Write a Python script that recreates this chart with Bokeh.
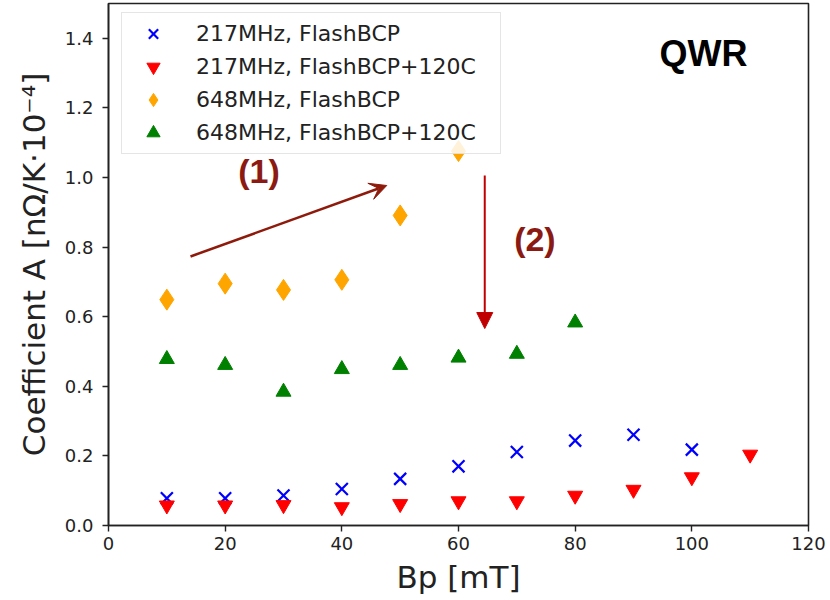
from bokeh.plotting import figure
from bokeh.models import (Arrow, VeeHead, NormalHead, Label, FixedTicker,
                          NumeralTickFormatter, Range1d, Legend)
from bokeh.embed import file_html
from bokeh.resources import INLINE

# Peak field Bp [mT] for each series
bp_217_bcp = [10, 20, 30, 40, 50, 60, 70, 80, 90, 100]
a_217_bcp = [0.078, 0.078, 0.086, 0.105, 0.134, 0.170, 0.211, 0.244, 0.261, 0.218]

bp_217_bake = [10, 20, 30, 40, 50, 60, 70, 80, 90, 100, 110]
a_217_bake = [0.058, 0.058, 0.059, 0.053, 0.062, 0.070, 0.070, 0.086, 0.103, 0.139, 0.204]

bp_648_bcp = [10, 20, 30, 40, 50, 60]
a_648_bcp = [0.649, 0.695, 0.677, 0.706, 0.891, 1.076]

bp_648_bake = [10, 20, 30, 40, 50, 60, 70, 80]
a_648_bake = [0.478, 0.461, 0.384, 0.449, 0.461, 0.482, 0.493, 0.583]

x_ticks = [0, 20, 40, 60, 80, 100, 120]
y_ticks = [0.0, 0.2, 0.4, 0.6, 0.8, 1.0, 1.2, 1.4]

p = figure(width=830, height=600, output_backend="svg", toolbar_location=None,
           x_range=Range1d(0, 120), y_range=Range1d(0, 1.5),
           min_border_left=108, min_border_right=22,
           min_border_top=3, min_border_bottom=75)

p.background_fill_color = "white"
p.border_fill_color = "white"
p.outline_line_color = "#222222"
p.outline_line_width = 1.6
p.xgrid.visible = False
p.ygrid.visible = False

for ax in (p.xaxis[0], p.yaxis[0]):
    ax.axis_line_color = "#222222"
    ax.axis_line_width = 1.6
    ax.major_tick_line_color = "#222222"
    ax.major_tick_line_width = 1.4
    ax.major_tick_out = 6
    ax.major_tick_in = 0
    ax.minor_tick_line_color = None
    ax.major_label_text_font = "DejaVu Sans"
    ax.major_label_text_font_size = "18px"
    ax.major_label_text_color = "#222222"
    ax.axis_label_text_font = "DejaVu Sans"
    ax.axis_label_text_font_size = "31px"
    ax.axis_label_text_font_style = "normal"
    ax.axis_label_text_color = "#222222"

p.xaxis.ticker = FixedTicker(ticks=x_ticks)
p.yaxis.ticker = FixedTicker(ticks=y_ticks)
p.yaxis.formatter = NumeralTickFormatter(format="0.0")
p.xaxis.axis_label = "Bp [mT]"
p.yaxis.axis_label = "Coefficient A [nΩ/K·10⁻⁴]"
p.xaxis.major_label_standoff = 5
p.yaxis.major_label_standoff = 9
p.xaxis.axis_label_standoff = 6
p.yaxis.axis_label_standoff = 10

r1 = p.scatter(bp_217_bcp, a_217_bcp, marker="x", size=17,
               line_color="blue", line_width=2.2)
r2 = p.scatter(bp_217_bake, a_217_bake, marker="inverted_triangle", size=15,
               fill_color="red", line_color="red")
r3 = p.scatter(bp_648_bcp, a_648_bcp, marker="diamond", size=21,
               fill_color="orange", line_color="orange")
r4 = p.scatter(bp_648_bake, a_648_bake, marker="triangle", size=15,
               fill_color="green", line_color="green")

legend = Legend(items=[("217MHz, FlashBCP", [r1]),
                       ("217MHz, FlashBCP+120C", [r2]),
                       ("648MHz, FlashBCP", [r3]),
                       ("648MHz, FlashBCP+120C", [r4])],
                location=(13, 371))
legend.label_text_font = "DejaVu Sans"
legend.label_text_font_size = "22px"
legend.label_text_color = "#222222"
legend.padding = 4
legend.spacing = 0
legend.glyph_width = 54
legend.glyph_height = 33
legend.label_height = 33
legend.label_width = 300
legend.label_standoff = 16
legend.border_line_color = "#cccccc"
legend.border_line_width = 1.5
legend.background_fill_color = "white"
legend.background_fill_alpha = 0.85
p.add_layout(legend)

# trend arrow (1): FlashBCP sensitivity rising with field
p.add_layout(Arrow(x_start=14.06, y_start=0.773, x_end=47.7, y_end=0.977,
                   line_color="#8e1a0b", line_width=2.5,
                   end=VeeHead(size=17, fill_color="#8e1a0b",
                               line_color="#8e1a0b")))
# arrow (2): drop after the 120C bake
p.add_layout(Arrow(x_start=64.5, y_start=1.006, x_end=64.5, y_end=0.566,
                   line_color="#c00000", line_width=2,
                   end=NormalHead(size=16, fill_color="#c00000",
                                  line_color="#c00000")))

for txt, x, y, color, size in [("(1)", 25.8, 1.02, "#8b1a12", "34px"),
                               ("(2)", 73.1, 0.823, "#8b1a12", "34px"),
                               ("QWR", 102.0, 1.356, "black", "36px")]:
    p.add_layout(Label(x=x, y=y, text=txt, text_align="center",
                       text_baseline="middle", text_font="Liberation Sans",
                       text_font_style="bold", text_font_size=size,
                       text_color=color))

open("out.html", "w").write(file_html(p, INLINE))
